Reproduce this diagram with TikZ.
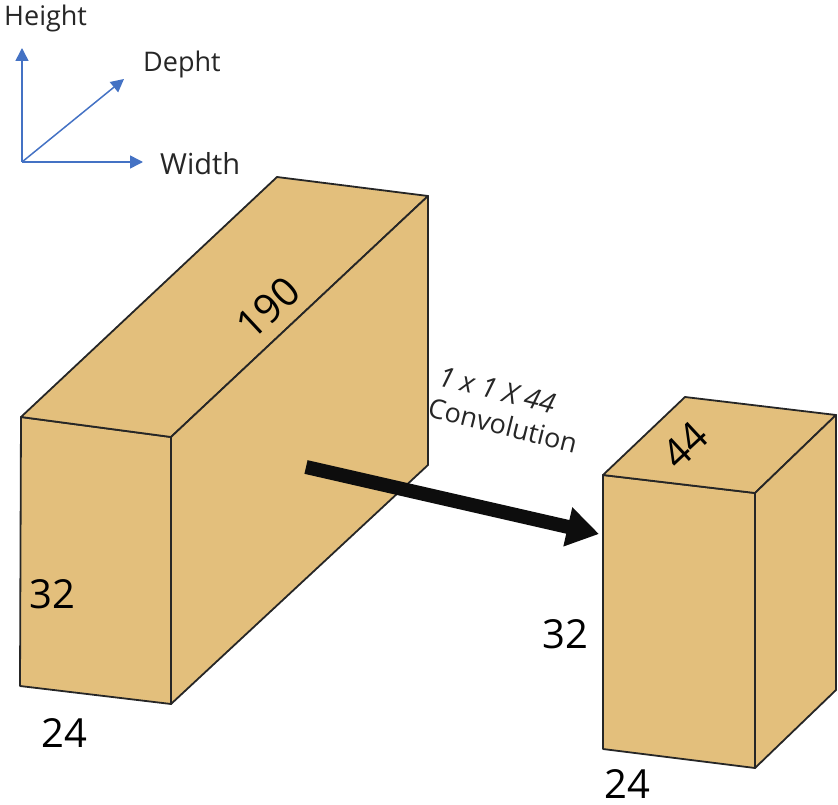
\documentclass[tikz,border=0pt]{standalone}
\usepackage{fontspec}
\setmainfont{Open Sans}
\usetikzlibrary{arrows.meta}
\definecolor{boxfill}{HTML}{E3BF7C}
\definecolor{axisblue}{HTML}{4472C4}
\definecolor{labelgrey}{HTML}{262626}
\tikzset{
  face/.style={fill=boxfill,draw=black!85,line width=1.8pt,line join=round},
  axisline/.style={draw=axisblue,line width=1.5pt,-{Triangle[length=13pt,width=13pt]}},
  axislabel/.style={text=labelgrey,font=\fontsize{27}{30}\selectfont,inner sep=0pt},
  dimlabel/.style={text=black,font=\fontsize{40}{44}\selectfont,inner sep=0pt},
  convlabel/.style={text=labelgrey,inner sep=0pt,rotate=-14},
  flowarrow/.style={draw=black!95,line width=14pt,-{Triangle[length=32pt,width=38pt]}},
}
\begin{document}
\begin{tikzpicture}[x=1pt,y=-1pt]
\useasboundingbox (0,0) rectangle (838,805);
% axes
\coordinate (o) at (22,162);
\coordinate (h) at (22,48);
\coordinate (d) at (124,79);
\coordinate (w) at (143,162);
\draw[axisline] (o) -- (h);
\draw[axisline] (o) -- (d);
\draw[axisline] (o) -- (w);
\node[axislabel,anchor=west] (lh) at (4,18) {Height};
\node[axislabel,anchor=west] (ld) at (143,64) {Depht};
\node[axislabel,anchor=west,font=\fontsize{29}{32}\selectfont] (lw) at (160,164) {Width};
% large block
\draw[face] (21,417) -- (171,437) -- (171,704) -- (20,686) -- cycle;
\draw[face] (21,417) -- (277,177) -- (428,196) -- (171,437) -- cycle;
\draw[face] (171,437) -- (428,196) -- (428,465) -- (171,704) -- cycle;
% small block
\draw[face] (603,475) -- (755,493) -- (755,768) -- (603,749) -- cycle;
\draw[face] (603,475) -- (685,397) -- (836,415) -- (755,493) -- cycle;
\draw[face] (755,493) -- (836,415) -- (836,690) -- (755,768) -- cycle;
% convolution arrow
\coordinate (as) at (306,467);
\coordinate (ae) at (599,534);
\draw[flowarrow] (as) -- (ae);
% labels
\node[dimlabel,rotate=43] (n190) at (268,308) {190};
\node[dimlabel] (n32a) at (52,594) {32};
\node[dimlabel] (n24a) at (64,733) {24};
\node[dimlabel,rotate=43] (n44) at (685,445) {44};
\node[dimlabel] (n32b) at (565,634) {32};
\node[dimlabel] (n24b) at (627,784) {24};
\node[convlabel,font=\fontsize{28}{30}\selectfont\itshape] (c1) at (497,390) {1 x 1 X 44};
\node[convlabel,font=\fontsize{27}{30}\selectfont] (c2) at (503,425) {Convolution};
\end{tikzpicture}
\end{document}
